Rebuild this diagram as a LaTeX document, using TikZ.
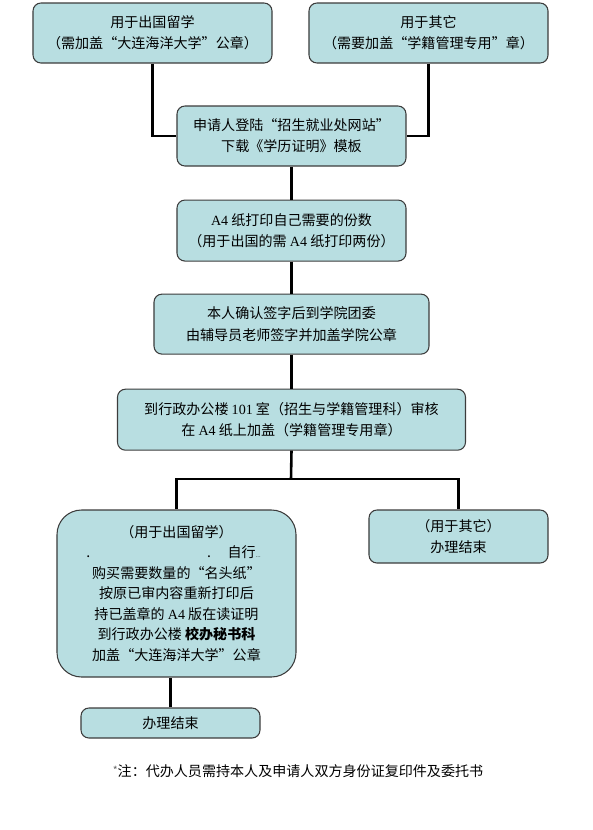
\documentclass[tikz,border=0pt]{standalone}
\usepackage{fontspec}
\setmainfont{Noto Sans CJK SC}
\newfontfamily\latinfont{Liberation Serif}
\usepackage{tikz}
\usetikzlibrary{positioning}
\definecolor{boxfill}{HTML}{B8DEE1}
\definecolor{boxline}{HTML}{3C3C3C}
\newcommand{\lat}[1]{{\latinfont #1}}
\newcommand{\qopen}{\makebox[1em][r]{“}}
\newcommand{\qclose}{\makebox[1em][l]{”}}

\begin{document}
\begin{tikzpicture}[
    x=0.03cm, y=-0.03cm,
    stepbox/.style={draw=boxline, line width=0.9pt, fill=boxfill, rounded corners=6.8pt, align=center, inner sep=0pt, font=\fontsize{12}{18}\selectfont},
    link/.style={line width=2.2pt, black}
  ]
    \useasboundingbox (0,0) rectangle (593,830);
    % top row
    \node[stepbox, minimum width=7.17cm, minimum height=1.8cm] (abroad) at (152.5,33) {用于出国留学\\（需加盖\qopen 大连海洋大学\qclose 公章）};
    \node[stepbox, minimum width=7.17cm, minimum height=1.8cm] (other) at (428.5,33) {用于其它\\（需要加盖\qopen 学籍管理专用\qclose 章）};
    % main column
    \node[stepbox, minimum width=6.87cm, minimum height=1.8cm] (login) at (291.5,136) {申请人登陆\qopen 招生就业处网站\qclose\\下载《学历证明》模板};
    \node[stepbox, minimum width=6.87cm, minimum height=1.83cm, below=0.99cm of login] (print) {\lat{A4} 纸打印自己需要的份数\\（用于出国的需 \lat{A4} 纸打印两份）};
    \node[stepbox, minimum width=8.25cm, minimum height=1.8cm, below=0.96cm of print] (sign) {本人确认签字后到学院团委\\由辅导员老师签字并加盖学院公章};
    \node[stepbox, minimum width=10.44cm, minimum height=1.83cm, below=1.02cm of sign] (review) {到行政办公楼 \lat{101} 室（招生与学籍管理科）审核\\在 \lat{A4} 纸上加盖（学籍管理专用章）};
    % branches
    \node[stepbox, rounded corners=21pt, minimum width=7.17cm, minimum height=5.01cm, font=\fontsize{12}{17.5}\selectfont] (seal) at (176.5,593.5) {（用于出国留学）\\
      \makebox[5.4cm][l]{.\hspace{3.5cm}.\hspace{0.5cm}自行{\tiny...}}\\
      购买需要数量的\qopen 名头纸\qclose\\
      按原已审内容重新打印后\\
      持已盖章的 \lat{A4} 版在读证明\\
      到行政办公楼 {\bfseries 校办秘书科}\\
      加盖\qopen 大连海洋大学\qclose 公章};
    \node[stepbox, minimum width=5.37cm, minimum height=1.59cm] (otherdone) at (458.5,536.5) {（用于其它）\\办理结束};
    \node[stepbox, minimum width=5.37cm, minimum height=0.9cm] (sealdone) at (170.5,723) {办理结束};
    \coordinate (split) at (291,479);
    % connectors
    \draw[link] (abroad.south) |- (login.west);
    \draw[link] (other.south) |- (login.east);
    \draw[link] (login) -- (print);
    \draw[link] (print) -- (sign);
    \draw[link] (sign) -- (review);
    \draw[link] (review.south) -- (split);
    \draw[link] (seal.north) |- (split) -| (otherdone.north);
    \draw[link] (sealdone.north) -- (sealdone.north |- seal.south);
    % footnote
    \node[font=\fontsize{12}{14}\selectfont] (note) at (298,771) {\raisebox{0.3ex}{\color{black!60}\small *}注：代办人员需持本人及申请人双方身份证复印件及委托书};
\end{tikzpicture}
\end{document}
